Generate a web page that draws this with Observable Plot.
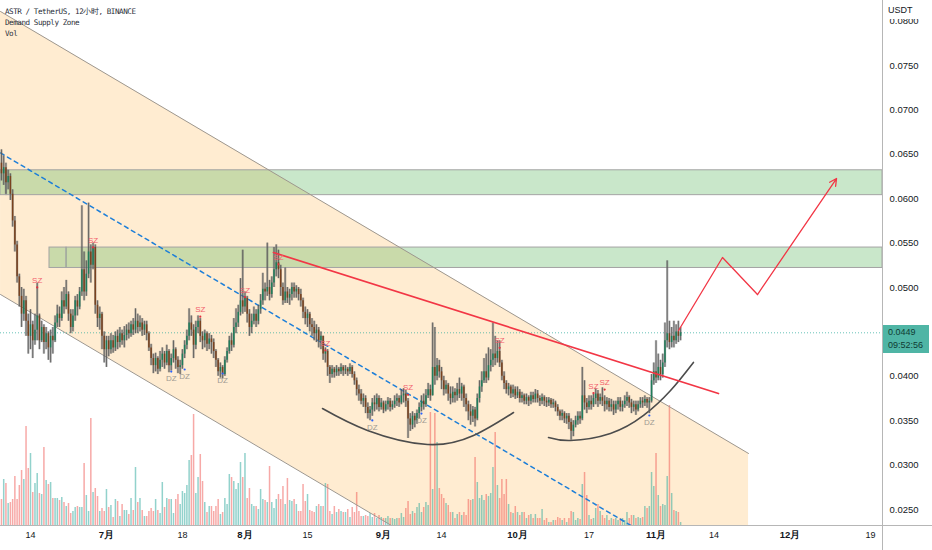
<!DOCTYPE html>
<html><head><meta charset="utf-8">
<script src="https://cdn.jsdelivr.net/npm/d3@7"></script>
<script src="https://cdn.jsdelivr.net/npm/@observablehq/plot@0.6"></script>
<style>
body{margin:0;background:#fff;}
#wrap{position:relative;width:932px;height:550px;overflow:hidden;font-family:"Liberation Sans",Arial,sans-serif;}
#wrap svg{position:absolute;left:0;top:0;}
.hdr{position:absolute;left:5px;top:6px;font-family:"DejaVu Sans Mono",monospace;font-size:7.6px;letter-spacing:-0.45px;line-height:11.2px;color:#2a2e39;white-space:pre;}
.vline{position:absolute;left:882px;top:0;width:1px;height:550px;background:#b6b6b6;}
.hline{position:absolute;left:0;top:525px;width:932px;height:1px;background:#b6b6b6;}
.usdt{position:absolute;left:883px;top:0;width:49px;height:19px;background:#fff;font-size:9px;color:#131722;padding:5px 0 0 5px;box-sizing:border-box;}
.plabel{position:absolute;left:883px;top:325px;width:46px;height:28px;background:#4fb5a5;color:#103c33;font-size:9px;line-height:13px;padding:1px 0 0 5px;box-sizing:border-box;}
</style></head><body>
<div id="wrap"></div>
<script>
// ---------- DATA ----------
const symbolTitle = "ASTR / TetherUS, 12小时, BINANCE";
const indicatorNames = ["Demand Supply Zone", "Vol"];
const quoteCurrency = "USDT";
const countdown = "09:52:56";

// 12h candles, first candle opens 2022-06-07 12:00 UTC; prices in units of 0.0001 USDT
const firstCandle = "2022-06-07T12:00Z";
const firstOpen = 640;
const close = [
628,635,618,625,605,575,548,512,490,470,
485,462,445,458,440,452,468,440,455,438,
448,432,445,440,460,470,465,485,478,492,
470,455,468,485,478,495,520,495,515,540,
525,545,480,465,470,445,430,440,430,440,
432,445,438,448,440,446,452,448,458,452,
462,455,460,452,458,448,432,420,412,420,
408,418,425,415,428,412,420,430,418,410,
412,425,435,445,460,452,435,455,462,445,
440,448,436,442,438,428,418,405,410,402,
418,428,440,435,455,460,472,485,478,488,
470,455,462,470,462,475,485,498,495,500,
492,505,520,528,520,500,485,495,488,492,
500,495,498,492,485,472,465,470,458,455,
448,452,440,445,425,428,410,402,408,404,
408,405,410,406,408,405,410,402,395,385,
380,372,375,365,358,362,370,368,375,365,
370,362,368,372,365,368,372,375,370,378,
380,372,352,345,355,350,358,365,372,368,
378,385,378,410,400,412,405,395,385,390,
380,375,382,378,385,380,388,375,368,360,
355,362,352,375,388,395,405,398,412,418,
425,420,428,415,400,392,385,388,380,385,
378,382,375,378,372,376,372,378,374,380,
375,372,376,372,370,373,368,370,365,360,
355,358,352,355,348,338,345,350,355,352,
378,370,365,372,368,375,380,372,376,372,
368,372,365,368,362,368,372,365,368,372,
376,370,365,368,362,368,372,370,374,370,
372,395,405,398,410,402,415,440,448,438,
445,440,450,445,449];
const high = [
655,648,640,632,628,610,580,552,515,500,
498,490,470,475,462,470,505,470,462,458,
455,450,452,455,468,480,478,495,500,508,
495,475,475,490,492,500,592,540,530,595,
548,550,548,485,478,472,450,445,445,448,
446,450,452,455,452,456,458,460,462,465,
476,470,468,465,462,462,450,436,425,426,
422,428,432,428,435,430,425,440,432,422,
418,430,440,452,476,468,458,462,468,465,
450,452,450,448,446,442,430,420,415,412,
422,432,445,448,465,476,480,510,542,495,
490,475,470,478,475,480,492,516,505,550,
508,512,545,548,542,525,505,522,500,498,
505,505,502,500,498,488,478,475,472,465,
462,458,455,450,433,432,430,412,412,410,
412,410,414,412,412,410,414,412,405,398,
390,385,380,378,370,366,375,378,380,378,
375,372,372,376,375,372,378,380,378,385,
386,384,375,358,360,358,362,370,378,380,
385,392,390,460,455,420,418,410,400,395,
392,388,388,386,392,398,392,390,380,372,
368,366,365,380,395,405,420,425,432,430,
460,445,440,440,418,405,395,392,390,390,
388,388,385,382,380,380,378,382,382,385,
384,378,380,378,376,376,375,374,372,368,
362,362,360,358,358,352,350,355,360,360,
410,395,375,378,378,380,386,384,380,387,
378,376,375,374,372,372,376,376,372,378,
382,378,374,372,372,372,376,376,378,376,
376,402,415,440,425,418,425,460,530,462,
455,462,458,462,455];
const low = [
620,615,605,610,598,568,540,505,478,455,
462,445,425,430,420,435,440,430,438,425,
430,418,415,425,438,455,455,462,470,475,
462,448,450,462,468,475,490,485,490,510,
505,520,470,455,452,430,415,410,422,425,
426,428,430,432,435,432,440,442,444,446,
448,448,450,445,446,440,428,412,403,405,
402,405,410,408,412,404,406,415,408,403,
402,408,420,430,440,445,420,430,448,438,
430,432,428,430,425,420,410,400,398,397,
400,415,425,428,432,448,455,468,470,472,
460,445,448,458,455,458,470,480,485,490,
485,488,500,512,510,490,480,482,482,480,
485,488,488,485,478,465,458,455,450,445,
440,438,432,430,418,415,400,392,398,398,
400,400,402,400,402,400,402,398,390,378,
372,368,365,358,352,350,355,360,362,360,
362,358,360,362,360,362,364,366,365,368,
370,365,330,338,340,342,346,352,360,362,
365,375,372,378,390,395,398,385,378,380,
372,368,370,370,372,375,372,365,360,350,
345,348,343,350,370,382,392,392,395,405,
410,412,415,410,395,385,380,378,375,376,
374,375,370,370,368,368,366,368,370,370,
370,366,368,366,365,366,364,364,360,355,
350,350,347,346,340,328,332,342,345,346,
350,362,358,362,362,365,368,365,368,366,
360,362,360,360,356,358,362,360,360,364,
366,364,358,360,356,360,364,364,366,364,
358,370,390,392,395,395,398,410,432,430,
432,432,436,438,440];
// volume per candle (millions ASTR)
const volume = [
26,46,42,22,23,26,49,26,40,55,
46,99,57,72,33,42,52,32,31,78,
45,41,43,27,27,27,25,28,23,19,
22,12,14,18,19,18,18,62,30,14,
107,33,37,29,14,17,14,36,18,20,
8,26,24,9,21,15,15,11,27,15,
58,23,27,15,9,9,14,17,14,26,
15,12,43,18,27,26,26,12,26,31,
21,34,32,40,65,70,111,32,48,71,
44,23,13,19,19,14,19,26,11,13,
27,21,51,48,44,36,42,63,48,72,
27,37,21,19,19,16,36,26,25,23,
59,23,17,26,31,26,39,21,47,25,
24,26,21,14,14,41,24,31,15,14,
13,19,21,19,19,42,41,14,11,19,
13,16,14,
13,13,16,8,18,13,33,14,9,9,
10,9,12,8,12,7,10,8,7,7,
9,7,7,6,7,7,12,8,17,24,
11,14,12,18,22,13,18,23,20,113,
36,112,83,37,31,27,22,20,13,13,
7,11,13,10,13,10,26,25,26,68,
43,27,30,25,31,29,32,58,93,40,
27,46,31,46,21,13,12,19,13,10,
13,13,7,10,11,7,11,7,7,16,
5,7,3,3,5,5,8,7,5,7,
3,7,14,13,5,7,6,41,53,30,
10,6,7,17,21,14,10,7,10,5,
7,6,7,
5,7,7,5,13,7,10,10,7,8,
7,8,19,17,19,53,39,72,30,19,
21,20,49,120,32,15,14,13,3];

// axis (0.0450 is hidden behind the last-price label in the reference)
const xDomain = ["2022-06-07T06:50Z", "2022-12-21T16:30Z"];
const yDomain = [0.0232, 0.08232];
const yTicks = [0.025,0.030,0.035,0.040,0.050,0.055,0.060,0.065,0.070,0.075,0.080];
const xTickDates = ["2022-06-14","2022-07-01","2022-07-18","2022-08-01","2022-08-15","2022-09-01","2022-09-14","2022-10-01","2022-10-17","2022-11-01","2022-11-14","2022-12-01","2022-12-19"];
const xTickLabels = ["14","7月","18","8月","15","9月","14","10月","17","11月","14","12月","19"];

// drawings
const channelDates = ["2022-06-07T07:00Z", "2022-11-21T17:00Z"];
const channelUpper = [0.08108, 0.03131];
const channelLower = [0.04921, -0.00056];
const channelMid = [0.06515, 0.01538];

const zoneStart = ["2022-06-07T06:50Z","2022-06-08T15:00Z","2022-06-18T06:00Z","2022-06-22T01:30Z"];
const zoneEnd   = ["2022-06-08T15:00Z","2022-12-21T16:30Z","2022-06-22T01:30Z","2022-12-21T16:30Z"];
const zoneTop    = [0.0632, 0.0632, 0.0545, 0.0545];
const zoneBottom = [0.0604, 0.0604, 0.0522, 0.0522];

const trendDates = ["2022-08-07T09:00Z", "2022-11-14T23:30Z"];
const trendPrices = [0.05394, 0.03806];

const pathDates = ["2022-11-06T01:00Z","2022-11-15T21:00Z","2022-11-23T17:00Z","2022-12-11T09:30Z"];
const pathPrices = [0.04516, 0.05338, 0.04921, 0.06227];

const arc1Dates = ["2022-08-18T08:24Z","2022-08-28T10:19Z","2022-09-10T20:24Z","2022-09-21T03:36Z","2022-09-30T02:24Z"];
const arc1Prices = [0.03637, 0.03390, 0.03232, 0.03333, 0.03592];
const arc2Dates = ["2022-10-07T22:30Z","2022-10-12T20:40Z","2022-10-21T19:00Z","2022-10-29T05:00Z","2022-11-04T06:00Z","2022-11-09T09:00Z"];
const arc2Prices = [0.03311, 0.03277, 0.03356, 0.03559, 0.03840, 0.04156];

// indicator labels: candle index + label price
const szIndex = [16,41,89,109,124,145,182,223,265,270];
const szPrice = [0.0508,0.0553,0.0475,0.0497,0.0534,0.0437,0.0387,0.0440,0.0389,0.0393];
const dzIndex = [76,82,99,166,188,290];
const dzPrice = [0.03975,0.03998,0.03953,0.03424,0.03502,0.0348];

// ---------- BUILD ----------
const H12 = 12 * 3600e3;
const t0 = new Date(firstCandle).getTime();
const candles = close.map((c, i) => {
  const o = i === 0 ? firstOpen : close[i - 1];
  return {
    date: new Date(t0 + i * H12),
    open: o / 1e4, close: c / 1e4,
    high: Math.max(high[i], o, c) / 1e4,
    low: Math.min(low[i], o, c) / 1e4,
    up: c >= o, vol: volume[i]
  };
});
const vMax = d3.max(volume);
const volShare = 0.2286; // fraction of pane height for the tallest volume bar
const volTop = v => yDomain[0] + v / vMax * volShare * (yDomain[1] - yDomain[0]);

const D = s => new Date(s);
const channel = channelDates.map((d, i) => ({x: D(d), up: channelUpper[i], lo: channelLower[i], mid: channelMid[i]}));
const zones = zoneStart.map((d, i) => ({x1: D(d), x2: D(zoneEnd[i]), y1: zoneBottom[i], y2: zoneTop[i]}));
const trend = trendDates.map((d, i) => ({x: D(d), y: trendPrices[i]}));
const path = pathDates.map((d, i) => ({x: D(d), y: pathPrices[i]}));
const arc1 = arc1Dates.map((d, i) => ({x: D(d), y: arc1Prices[i]}));
const arc2 = arc2Dates.map((d, i) => ({x: D(d), y: arc2Prices[i]}));
const sz = szIndex.map((k, i) => ({x: candles[k].date, y: szPrice[i]}));
const dz = dzIndex.map((k, i) => ({x: candles[k].date, y: dzPrice[i]}));
const xticks = xTickDates.map((d, i) => ({x: new Date(d + "T00:00Z"), label: xTickLabels[i], month: xTickLabels[i].includes("月")}));
const last = candles[candles.length - 1];

const chart = Plot.plot({
  width: 932, height: 550,
  marginLeft: 0, marginRight: 50, marginTop: 0, marginBottom: 25,
  style: {fontFamily: '"Liberation Sans", Arial, sans-serif', fontSize: "9px", color: "#131722", background: "transparent", overflow: "visible"},
  x: {type: "utc", domain: xDomain.map(D), axis: null},
  y: {domain: yDomain, axis: null},
  marks: [
    Plot.areaY(channel, {x: "x", y1: "lo", y2: "up", fill: "rgb(255,152,0)", fillOpacity: 0.18, clip: true}),
    Plot.rect(zones, {x1: "x1", x2: "x2", y1: "y1", y2: "y2", fill: "rgb(76,175,80)", fillOpacity: 0.3, stroke: "#a3a3a3", strokeWidth: 1, clip: true}),
    Plot.ruleX(candles, {x: "date", y1: yDomain[0], y2: d => volTop(d.vol), stroke: d => d.up ? "rgba(38,166,154,0.5)" : "rgba(239,83,80,0.5)", strokeWidth: 1.5, clip: true}),
    Plot.line(channel, {x: "x", y: "up", stroke: "#9d978f", strokeWidth: 1, clip: true}),
    Plot.line(channel, {x: "x", y: "lo", stroke: "#9d978f", strokeWidth: 1, clip: true}),
    Plot.line(channel, {x: "x", y: "mid", stroke: "#1e7fd8", strokeWidth: 1.5, strokeDasharray: "4,4", clip: true}),
    Plot.ruleY([last.close], {stroke: "#26a69a", strokeOpacity: 0.7, strokeDasharray: "1,2", strokeWidth: 1}),
    Plot.line(arc1, {x: "x", y: "y", curve: "natural", stroke: "#4c4c4c", strokeWidth: 1.6, clip: true}),
    Plot.line(arc2, {x: "x", y: "y", curve: "natural", stroke: "#4c4c4c", strokeWidth: 1.6, clip: true}),
    Plot.ruleX(candles, {x: "date", y1: "low", y2: "high", stroke: "#7a7a7a", strokeOpacity: 0.5, strokeWidth: 2.4}),
    Plot.ruleX(candles, {x: "date", y1: "low", y2: "high", stroke: "#4f4f4f", strokeWidth: 0.8}),
    Plot.ruleX(candles, {x: "date", y1: "open", y2: "close", stroke: d => d.up ? "#1f7d5a" : "#7a421e", strokeWidth: 1.5}),
    Plot.line(trend, {x: "x", y: "y", stroke: "#f23645", strokeWidth: 1.7, clip: true}),
    Plot.line(path.slice(0, 3), {x: "x", y: "y", stroke: "#f23645", strokeWidth: 1.3, clip: true}),
    Plot.arrow([{x1: path[2].x, y1: path[2].y, x2: path[3].x, y2: path[3].y}], {x1: "x1", y1: "y1", x2: "x2", y2: "y2", stroke: "#f23645", strokeWidth: 1.3, headLength: 9, headAngle: 55}),
    Plot.text(sz, {x: "x", y: "y", text: () => "SZ", fill: "#f2606c", fontSize: 8}),
    Plot.dot(sz, {x: "x", y: "y", dy: 7, r: 1.1, fill: "#e0303f", stroke: null}),
    Plot.text(dz, {x: "x", y: "y", text: () => "DZ", fill: "#a09a92", fontSize: 8}),
    Plot.dot(dz, {x: "x", y: "y", dy: -7, r: 1.1, fill: "#2962ff", stroke: null}),
    Plot.axisY({anchor: "right", ticks: yTicks, tickFormat: d => d.toFixed(4), tickSize: 0, tickPadding: 7, fontSize: 9.5}),
    Plot.text(xticks.filter(d => !d.month), {x: "x", text: "label", frameAnchor: "bottom", dy: 12, fontSize: 9, fill: "#131722"}),
    Plot.text(xticks.filter(d => d.month), {x: "x", text: "label", frameAnchor: "bottom", dy: 12, fontSize: 9.5, fontWeight: "bold", fill: "#131722"})
  ]
});

const wrap = document.getElementById("wrap");
wrap.appendChild(chart);
const add = (cls, html) => { const e = document.createElement("div"); e.className = cls; e.innerHTML = html; wrap.appendChild(e); return e; };
add("vline", "");
add("hline", "");
add("usdt", quoteCurrency);
add("plabel", last.close.toFixed(4) + "<br>" + countdown);
add("hdr", [symbolTitle, ...indicatorNames].join("\n"));
</script>
</body></html>
